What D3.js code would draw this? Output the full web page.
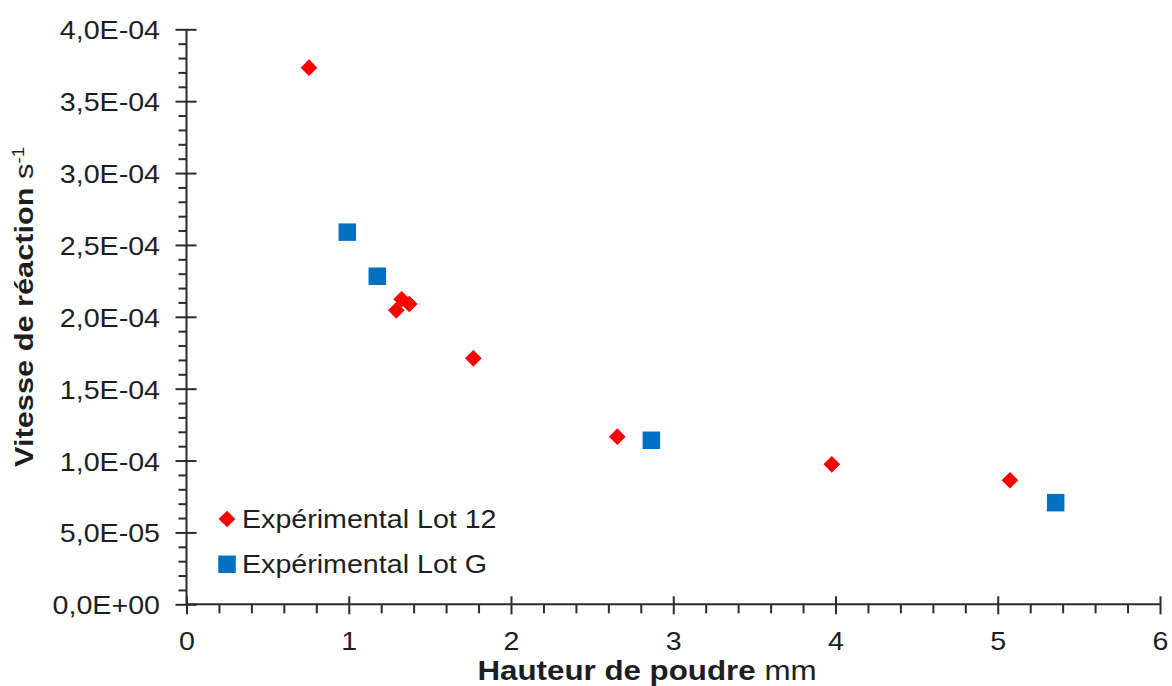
<!DOCTYPE html>
<html><head><meta charset="utf-8">
<script src="https://cdn.jsdelivr.net/npm/d3@7"></script>
<style>
body{margin:0;background:#fff}
svg{display:block}
text{font-family:"Liberation Sans",Arial,sans-serif;fill:#1e1e1e}
</style>
</head><body>
<svg id="c" width="1172" height="686"></svg>
<script>
// ---- data ----
const lot12X = [0.755, 1.326, 1.373, 1.293, 1.768, 2.655, 3.977, 5.075];
const lot12Y = [3.733e-4, 2.122e-4, 2.089e-4, 2.045e-4, 1.711e-4, 1.166e-4, 0.974e-4, 0.863e-4];
const lotGX = [0.991, 1.176, 2.865, 5.357];
const lotGY = [2.589e-4, 2.282e-4, 1.141e-4, 0.707e-4];
const seriesNames = ["Expérimental Lot 12", "Expérimental Lot G"];
const xTicks = [0, 1, 2, 3, 4, 5, 6];
const xTickLabels = ["0", "1", "2", "3", "4", "5", "6"];
const yTicks = [0, 0.5e-4, 1.0e-4, 1.5e-4, 2.0e-4, 2.5e-4, 3.0e-4, 3.5e-4, 4.0e-4];
const yTickLabels = ["0,0E+00", "5,0E-05", "1,0E-04", "1,5E-04", "2,0E-04", "2,5E-04", "3,0E-04", "3,5E-04", "4,0E-04"];

// ---- layout ----
const svg = d3.select("#c");
const x = d3.scaleLinear().domain([0, 6]).range([186.5, 1160]);
const y = d3.scaleLinear().domain([0, 4e-4]).range([604.3, 29.3]);
const axisColor = "#2b2b2b";
const SX = 1.08, SXB = 1.16;

// minor ticks
const yMinor = d3.range(0, 41).map(i => i * 1e-5).filter((v, i) => i % 5 !== 0);
const xMinor = d3.range(0, 31).map(i => i * 0.2).filter((v, i) => i % 5 !== 0);

// Y axis
const gy = svg.append("g").attr("transform", `translate(${x(0)},0)`);
gy.call(d3.axisLeft(y).tickValues(yMinor).tickSize(8).tickFormat(""))
  .call(g => g.select(".domain").remove());
gy.append("g").call(d3.axisLeft(y).tickValues(yTicks).tickSize(11)
    .tickFormat((d, i) => yTickLabels[i]))
  .call(g => g.select(".domain").remove())
  .call(g => g.selectAll(".tick line").attr("x1", 10))
  .call(g => g.selectAll(".tick text").attr("x", -26.5 / SX).attr("dy", "0.36em")
     .attr("transform", `scale(${SX},1)`).style("font-size", "26.5px").attr("fill", "#1e1e1e"));
gy.append("line").attr("x1", 0).attr("x2", 0).attr("y1", y(4e-4)).attr("y2", y(0));

// X axis
const gx = svg.append("g").attr("transform", `translate(0,${y(0)})`);
gx.call(d3.axisBottom(x).tickValues(xMinor).tickSize(9).tickFormat(""))
  .call(g => g.select(".domain").remove());
gx.append("g").call(d3.axisBottom(x).tickValues(xTicks).tickSize(10)
    .tickFormat((d, i) => xTickLabels[i]))
  .call(g => g.select(".domain").remove())
  .call(g => g.selectAll(".tick line").attr("y1", -8))
  .call(g => g.selectAll(".tick text").attr("y", 46).attr("dy", 0)
     .attr("transform", `scale(${SX},1)`).style("font-size", "26.5px").attr("fill", "#1e1e1e"));
gx.append("line").attr("x1", x(0)).attr("x2", x(6)).attr("y1", 0).attr("y2", 0);

svg.selectAll(".tick line, g > line").attr("stroke", axisColor).attr("stroke-width", 2);
svg.selectAll("g > line").attr("stroke", axisColor).attr("stroke-width", 2);

// markers
const diamond = d3.symbol().type(d3.symbolSquare).size(11.8 * 11.8);
const square = d3.symbol().type(d3.symbolSquare).size(17.5 * 17.5);

svg.append("g").selectAll("path").data(lotGX.map((v, i) => [v, lotGY[i]]))
  .join("path").attr("d", square)
  .attr("transform", d => `translate(${x(d[0])},${y(d[1])})`)
  .attr("fill", "#0070C0");
svg.append("g").selectAll("path").data(lot12X.map((v, i) => [v, lot12Y[i]]))
  .join("path").attr("d", diamond)
  .attr("transform", d => `translate(${x(d[0])},${y(d[1])}) rotate(45)`)
  .attr("fill", "#FF0000");

// legend
const leg = svg.append("g");
leg.append("path").attr("d", diamond).attr("transform", "translate(227,519) rotate(45)").attr("fill", "#FF0000");
leg.append("path").attr("d", square).attr("transform", "translate(227,564.3)").attr("fill", "#0070C0");
leg.append("text").attr("transform", `translate(242,527.5) scale(${SX},1)`).style("font-size", "26.5px").text(seriesNames[0]);
leg.append("text").attr("transform", `translate(242,573) scale(${SX},1)`).style("font-size", "26.5px").text(seriesNames[1]);

// axis titles
const xt = svg.append("text").attr("text-anchor", "middle")
  .attr("transform", `translate(647,680) scale(${SXB},1)`).style("font-size", "27px");
xt.append("tspan").style("font-weight", "bold").text("Hauteur de poudre ");
xt.append("tspan").text("mm");

const yt = svg.append("text").attr("text-anchor", "middle")
  .attr("transform", `translate(33,307) rotate(-90) scale(${SXB},1)`).style("font-size", "26.5px");
yt.append("tspan").style("font-weight", "bold").text("Vitesse de réaction ");
yt.append("tspan").text("s");
yt.append("tspan").attr("dy", "-0.55em").style("font-size", "16px").text("-1");
</script>
</body></html>
